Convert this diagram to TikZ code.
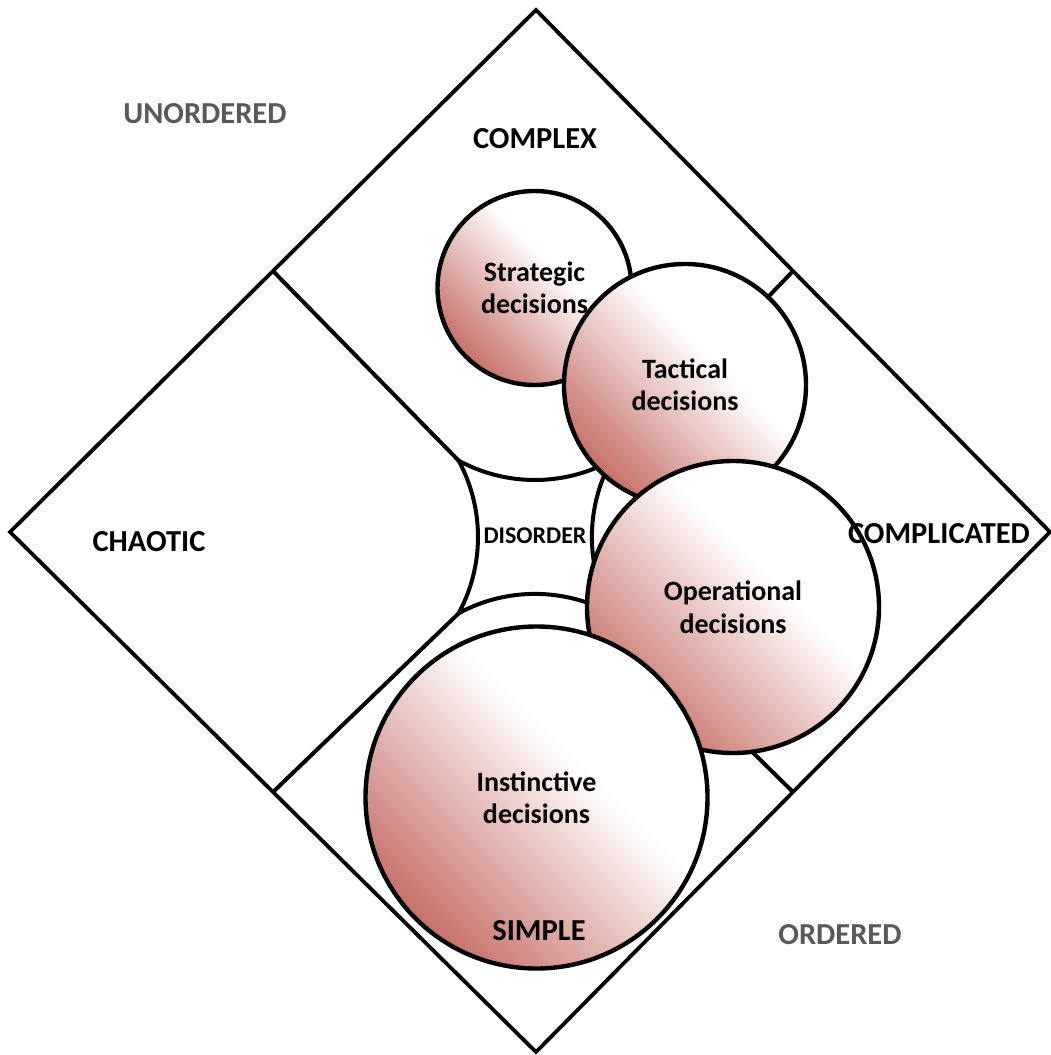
\documentclass[tikz,border=0pt]{standalone}
\usepackage{fontspec}
\usetikzlibrary{calc}
\setmainfont{Carlito}
\definecolor{decred}{RGB}{198,112,104}
\definecolor{labelgray}{RGB}{89,89,89}
\pgfdeclarehorizontalshading{decgrad}{100bp}{color(0bp)=(decred); color(25bp)=(decred); color(58bp)=(white); color(100bp)=(white)}
\begin{document}
\begin{tikzpicture}[x=1pt, y=-1pt,
  outerline/.style={line width=3.8pt, line join=miter},
  divider/.style={line width=4pt, line join=round},
  decision/.style={circle, draw, line width=4.4pt, shading=decgrad, shading angle=45,
    inner sep=0pt, align=center, font=\bfseries\fontsize{28}{32.5}\selectfont},
  zonelabel/.style={anchor=base, font=\bfseries\fontsize{30.5}{36}\selectfont},
  axislabel/.style={anchor=base, text=labelgray, font=\bfseries\fontsize{30.5}{36}\selectfont}]
\useasboundingbox (0,0) rectangle (1051,1055);

% outer diamond
\coordinate (T) at (536,10);
\coordinate (R) at (1050,532);
\coordinate (B) at (536,1052);
\coordinate (L) at (10,532);
\draw[outerline] (T) -- (R) -- (B) -- (L) -- cycle;

% edge midpoints where the dividers start
\coordinate (mTL) at ($(T)!0.5!(L)$);
\coordinate (mTR) at ($(T)!0.5!(R)$);
\coordinate (mBR) at ($(B)!0.5!(R)$);
\coordinate (mBL) at ($(B)!0.5!(L)$);

% corners of the central disorder region
\coordinate (jTL) at (458.6,460.6);
\coordinate (jTR) at (611.4,460.6);
\coordinate (jBR) at (611.4,613.4);
\coordinate (jBL) at (458.6,613.4);

\draw[divider] (mTL) -- (jTL);
\draw[divider] (mTR) -- (jTR);
\draw[divider] (mBR) -- (jBR);
\draw[divider] (mBL) -- (jBL);

% four concave arcs bounding the disorder region
\draw[divider] (jTL) arc[start angle=118.5, end angle=61.5, radius=160]
  arc[start angle=208.5, end angle=151.5, radius=160]
  arc[start angle=-61.5, end angle=-118.5, radius=160]
  arc[start angle=28.5, end angle=-28.5, radius=160] -- cycle;

% decision circles
\node[decision, minimum size=194pt] (strategic) at (534.5,288) {Strategic\\decisions};
\node[decision, minimum size=242pt] (tactical) at (685,385) {Tactical\\decisions};
\node[decision, minimum size=292pt] (operational) at (733,607) {Operational\\decisions};
\node[decision, minimum size=342pt] (instinctive) at (536.5,797.5) {Instinctive\\decisions};

% domain labels
\node[zonelabel] (complex) at (535,148) {COMPLEX};
\node[zonelabel] (chaotic) at (149,551) {CHAOTIC};
\node[zonelabel] (complicated) at (939,543) {COMPLICATED};
\node[zonelabel] (simple) at (539,940) {SIMPLE};
\node[anchor=base, font=\bfseries\fontsize{24}{28}\selectfont] (disorder) at (535,543) {DISORDER};

\node[axislabel] (unordered) at (205,123) {UNORDERED};
\node[axislabel] (ordered) at (840,944) {ORDERED};
\end{tikzpicture}
\end{document}
